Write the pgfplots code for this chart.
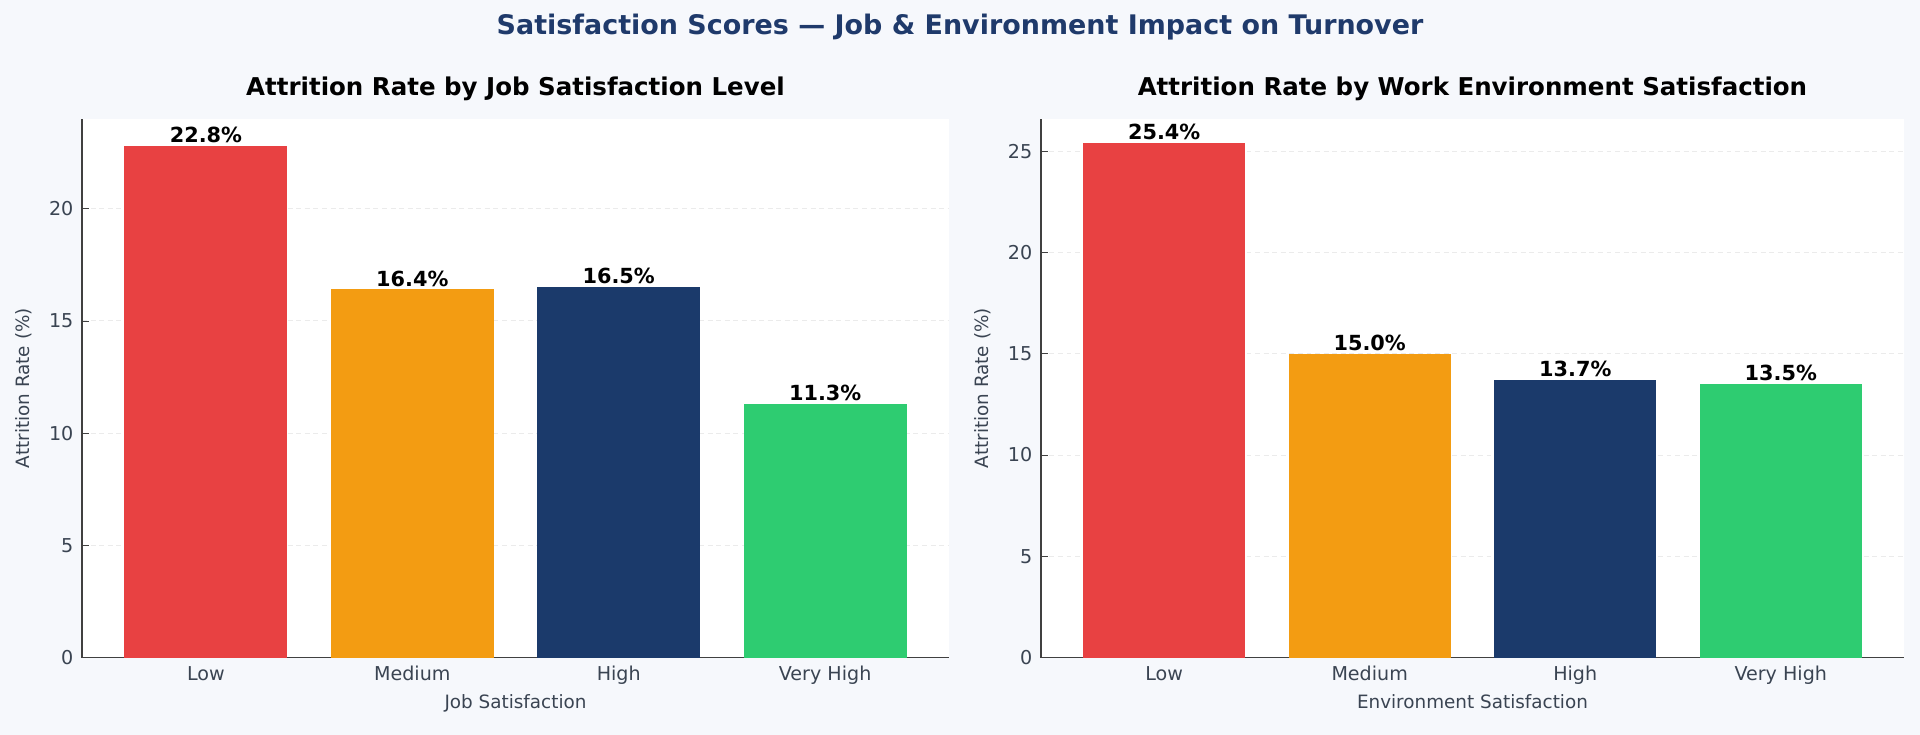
\documentclass[border=0pt]{standalone}
\usepackage{pgfplots}
\pgfplotsset{compat=1.18}
\usepackage{fontspec}
\setmainfont{DejaVu Sans}
\definecolor{bg}{HTML}{F6F8FC}
\definecolor{cred}{HTML}{E84142}
\definecolor{corg}{HTML}{F39C12}
\definecolor{cnav}{HTML}{1B3A6B}
\definecolor{cgrn}{HTML}{2ECC71}
\definecolor{ttl}{HTML}{1F3A6B}
\definecolor{tk}{HTML}{3A4452}
\pgfplotsset{
 myax/.style={scale only axis, height=220pt, ymin=0,
  xmin=-0.6, xmax=3.6, xtick={0,1,2,3},
  xticklabels={Low,Medium,High,Very High},
  /pgf/number format/assume math mode=true,
  axis x line*=bottom, axis y line*=left,
  axis line style={draw=black!75, line width=0.6pt},
  axis background/.style={fill=white},
  tick style={draw=black!75}, major tick length=3pt,
  ticklabel style={font=\fontsize{7.8}{9}\selectfont, text=tk},
  label style={font=\fontsize{7.5}{9}\selectfont, text=tk},
  ylabel={Attrition Rate (\%)},
  ymajorgrids, grid style={dash pattern=on 2pt off 1.5pt, black!8, line width=0.3pt},
  title style={font=\bfseries\fontsize{10}{12}\selectfont, yshift=-2pt},
  nodes near coords={\pgfmathprintnumber[fixed,precision=1,fixed zerofill,assume math mode=true]{\pgfplotspointmeta}\%},
  every node near coord/.append style={font=\bfseries\fontsize{8.5}{10}\selectfont, text=black, inner sep=1pt},
  clip=false},
 b/.style={ybar, bar width=0.79, bar shift=0pt, fill=#1, draw=none}
}
\begin{document}
\begin{tikzpicture}
\fill[bg] (0,0) rectangle (784pt,300pt);
\node[font=\bfseries\fontsize{11}{13}\selectfont, text=ttl] at (392pt,289pt) {Satisfaction Scores — Job \& Environment Impact on Turnover};
\begin{axis}[myax, at={(33.5pt,31.5pt)}, anchor=south west, width=354pt, ymax=24,
 ytick={0,5,10,15,20}, xlabel={Job Satisfaction},
 title={Attrition Rate by Job Satisfaction Level}, xlabel style={yshift=3pt}]
\addplot[b=cred] coordinates {(0,22.8)};
\addplot[b=corg] coordinates {(1,16.4)};
\addplot[b=cnav] coordinates {(2,16.5)};
\addplot[b=cgrn] coordinates {(3,11.3)};
\end{axis}
\begin{axis}[myax, at={(425pt,31.5pt)}, anchor=south west, width=352.5pt, ymax=26.6,
 ytick={0,5,10,15,20,25}, xlabel={Environment Satisfaction},
 title={Attrition Rate by Work Environment Satisfaction}, xlabel style={yshift=3pt}]
\addplot[b=cred] coordinates {(0,25.4)};
\addplot[b=corg] coordinates {(1,15.0)};
\addplot[b=cnav] coordinates {(2,13.7)};
\addplot[b=cgrn] coordinates {(3,13.5)};
\end{axis}
\end{tikzpicture}
\end{document}
